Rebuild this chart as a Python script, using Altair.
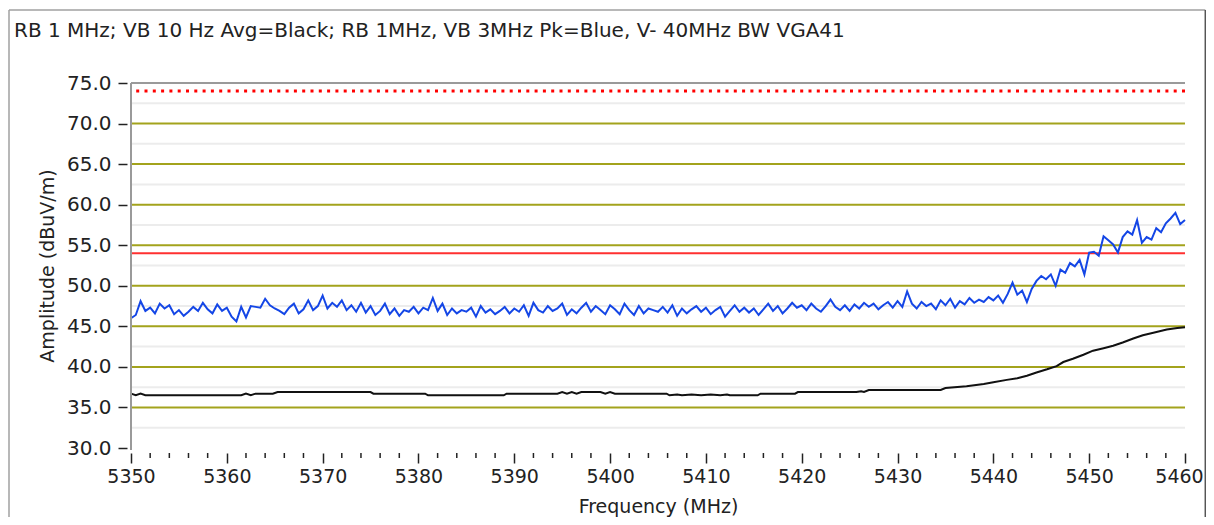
import altair as alt
import pandas as pd

TITLE = "RB 1 MHz; VB 10 Hz Avg=Black; RB 1MHz, VB 3MHz Pk=Blue, V- 40MHz BW VGA41"
X_TITLE = "Frequency (MHz)"
Y_TITLE = "Amplitude (dBuV/m)"

# Peak trace (blue), sweep points every 0.5 MHz from 5350 MHz
F_START = 5350.0
F_STEP = 0.5
peak_amp = [
    46.0, 46.4, 48.1, 46.9, 47.3, 46.6, 47.8, 47.2, 47.6, 46.5, 47.0, 46.3, 46.8, 47.4, 46.9, 47.9, 47.1, 46.6, 47.7, 46.9,
    47.3, 46.2, 45.6, 47.4, 46.1, 47.5, 47.4, 47.3, 48.4, 47.6, 47.2, 46.9, 46.5, 47.3, 47.8, 46.6, 47.1, 48.2, 47.0, 47.5,
    48.8, 47.2, 47.9, 47.4, 48.2, 47.0, 47.6, 46.8, 47.9, 46.7, 47.5, 46.4, 46.9, 47.8, 46.5, 47.2, 46.3, 47.0, 46.8, 47.4,
    46.6, 47.3, 47.0, 48.5, 46.9, 47.8, 46.4, 47.2, 46.6, 47.0, 46.8, 47.3, 46.2, 47.5, 46.7, 47.1, 46.5, 46.9, 47.4, 46.6,
    47.2, 46.8, 47.6, 46.3, 47.9, 47.0, 46.7, 47.5, 46.9, 47.2, 47.8, 46.4, 47.1, 46.6, 47.3, 47.9, 46.8, 47.5, 47.0, 46.5,
    47.6, 47.1, 46.5, 47.8, 47.0, 46.4, 47.5, 46.6, 47.2, 47.0, 46.8, 47.4, 46.7, 47.6, 46.3, 47.2, 46.6, 47.1, 47.5, 46.8,
    47.3, 46.5, 47.0, 47.4, 46.2, 46.9, 47.6, 46.8, 47.3, 46.7, 47.2, 46.4, 47.1, 47.8, 46.9, 47.5, 46.6, 47.2, 47.9, 47.3,
    47.6, 47.0, 47.8, 47.2, 46.8, 47.5, 48.3, 47.4, 47.0, 47.6, 46.9, 47.7, 47.2, 47.9, 47.4, 47.8, 47.1, 47.6, 48.0, 47.3,
    48.1, 47.4, 49.3, 47.8, 47.2, 48.0, 47.5, 47.8, 47.1, 48.2, 47.6, 48.4, 47.3, 48.1, 47.7, 48.5, 47.9, 48.3, 48.0, 48.6,
    48.2, 48.8, 47.9, 49.0, 50.4, 48.9, 49.4, 48.0, 49.6, 50.6, 51.2, 50.8, 51.4, 50.0, 52.0, 51.6, 52.8, 52.4, 53.2, 51.4,
    54.1, 54.2, 53.7, 56.1, 55.6, 55.1, 54.1, 56.0, 56.7, 56.3, 58.1, 55.3, 56.0, 55.7, 57.1, 56.6, 57.7, 58.3, 59.0, 57.6,
    58.1,
]
peak_freq = [F_START + F_STEP * i for i in range(len(peak_amp))]

# Average trace (black)
avg_freq = [
    5350.0, 5350.5, 5351.0, 5351.5, 5352.0, 5361.5, 5362.0, 5362.5, 5363.0, 5364.8, 5365.3, 5375.0,
    5375.3, 5380.7, 5381.0, 5388.9, 5389.2, 5394.5, 5395.0, 5395.5, 5396.0, 5396.5, 5397.0, 5399.0,
    5399.5, 5400.0, 5400.5, 5405.9, 5406.2, 5407.0, 5407.5, 5408.5, 5409.5, 5410.5, 5411.5, 5412.2,
    5412.5, 5415.4, 5415.7, 5419.3, 5419.6, 5425.7, 5426.2, 5426.5, 5427.0, 5434.5, 5435.0, 5437.2,
    5439.0, 5440.0, 5441.4, 5442.5, 5443.5, 5444.5, 5445.6, 5446.6, 5447.3, 5448.3, 5449.4, 5450.4,
    5451.5, 5452.5, 5453.5, 5454.6, 5455.6, 5456.7, 5458.1, 5459.2, 5460.0,
]
avg_amp = [
    36.7, 36.5, 36.7, 36.5, 36.5, 36.5, 36.7, 36.5, 36.7, 36.7, 36.9, 36.9,
    36.7, 36.7, 36.5, 36.5, 36.7, 36.7, 36.9, 36.7, 36.9, 36.7, 36.9, 36.9,
    36.7, 36.9, 36.7, 36.7, 36.5, 36.6, 36.5, 36.6, 36.5, 36.6, 36.5, 36.6,
    36.5, 36.5, 36.7, 36.7, 36.9, 36.9, 37.0, 36.9, 37.15, 37.15, 37.4, 37.6,
    37.9, 38.1, 38.4, 38.6, 38.9, 39.3, 39.7, 40.1, 40.6, 41.0, 41.5, 42.0,
    42.3, 42.6, 43.0, 43.5, 43.9, 44.2, 44.6, 44.8, 44.9,
]

limit_peak = [74.0]
limit_avg = [54.0]
grid_major = [35, 40, 45, 50, 55, 60, 65, 70]
grid_minor = [32.5, 37.5, 42.5, 47.5, 52.5, 57.5, 62.5, 67.5, 72.5]
y_ticks = [30, 35, 40, 45, 50, 55, 60, 65, 70, 75]
x_ticks = [5350, 5360, 5370, 5380, 5390, 5400, 5410, 5420, 5430, 5440, 5450, 5460]
x_minor = [f for f in range(5352, 5460, 2) if f % 10 != 0]

FONT = "DejaVu Sans"
TXT = "#222222"
W, H = 1054, 365

xs = alt.Scale(domain=[5350, 5460], nice=False, zero=False)
ys = alt.Scale(domain=[30, 75], nice=False, zero=False)

x_axis = alt.Axis(
    values=x_ticks, format="d", title=X_TITLE, grid=False, domain=False,
    offset=5, tickSize=10, tickWidth=1.5, tickColor=TXT,
    labelFont=FONT, labelFontSize=19, labelColor=TXT, labelPadding=4,
    labelFlush=False, labelOverlap=False,
    labelOffset={"expr": "datum.value == %d ? -6 : 0" % x_ticks[-1]},
    titleFont=FONT, titleFontSize=19, titleFontWeight="normal",
    titleColor=TXT, titlePadding=11,
)
y_axis = alt.Axis(
    values=y_ticks, format=".1f", title=Y_TITLE, grid=False, domain=False,
    offset=4, tickSize=9, tickWidth=1.5, tickColor=TXT,
    labelFont=FONT, labelFontSize=20, labelColor=TXT, labelPadding=7,
    labelOverlap=False,
    titleFont=FONT, titleFontSize=19, titleFontWeight="normal",
    titleColor=TXT, titlePadding=9,
)

one = pd.DataFrame({"k": [0]})

minor_grid = alt.Chart(pd.DataFrame({"v": grid_minor})).mark_rule(
    color="#ececec", strokeWidth=2
).encode(y=alt.Y("v:Q", scale=ys, axis=y_axis))

major_grid = alt.Chart(pd.DataFrame({"v": grid_major})).mark_rule(
    color="#a3a31c", strokeWidth=2
).encode(y=alt.Y("v:Q", scale=ys, axis=y_axis))

lim_pk = alt.Chart(pd.DataFrame({"v": limit_peak})).mark_rule(
    color="#ff0000", strokeWidth=3, strokeDash=[3, 5.3]
).encode(y=alt.Y("v:Q", scale=ys, axis=y_axis))

lim_av = alt.Chart(pd.DataFrame({"v": limit_avg})).mark_rule(
    color="#ff3030", strokeWidth=2
).encode(y=alt.Y("v:Q", scale=ys, axis=y_axis))

avg_line = alt.Chart(pd.DataFrame({"f": avg_freq, "v": avg_amp})).mark_line(
    color="#111111", strokeWidth=2
).encode(
    x=alt.X("f:Q", scale=xs, axis=x_axis),
    y=alt.Y("v:Q", scale=ys, axis=y_axis),
)

peak_line = alt.Chart(pd.DataFrame({"f": peak_freq, "v": peak_amp})).mark_line(
    color="#1446e6", strokeWidth=2
).encode(
    x=alt.X("f:Q", scale=xs, axis=x_axis),
    y=alt.Y("v:Q", scale=ys, axis=y_axis),
)

x_minor_ticks = alt.Chart(pd.DataFrame({"f": x_minor})).mark_rule(
    color=TXT, strokeWidth=1.5
).encode(
    x=alt.X("f:Q", scale=xs, axis=x_axis),
    y=alt.value(H + 5),
    y2=alt.value(H + 10),
)

frame_left = alt.Chart(one).mark_rule(color="#9a9a9a", strokeWidth=2).encode(
    x=alt.value(0), y=alt.value(0), y2=alt.value(H + 2)
)
frame_top = alt.Chart(one).mark_rule(color="#9a9a9a", strokeWidth=2).encode(
    x=alt.value(0), x2=alt.value(W), y=alt.value(0)
)

border_left = alt.Chart(one).mark_rule(color="#a0a0a0", strokeWidth=1.5).encode(
    x=alt.value(-122), y=alt.value(-73), y2=alt.value(440)
)
border_top = alt.Chart(one).mark_rule(color="#a0a0a0", strokeWidth=1.5).encode(
    x=alt.value(-122), x2=alt.value(1074.3), y=alt.value(-73)
)
border_right = alt.Chart(one).mark_rule(color="#555555", strokeWidth=1.5).encode(
    x=alt.value(1074.3), y=alt.value(-73), y2=alt.value(440)
)

title = alt.Chart(pd.DataFrame({"t": [TITLE]})).mark_text(
    align="left", baseline="middle", font=FONT, fontSize=20, color=TXT
).encode(x=alt.value(-117), y=alt.value(-52), text="t:N")

chart = alt.layer(
    minor_grid, major_grid, lim_pk, lim_av, avg_line, peak_line,
    x_minor_ticks, frame_left, frame_top,
    border_left, border_top, border_right, title,
).properties(
    width=W, height=H,
    padding={"left": 123, "top": 75, "right": 21, "bottom": 69},
    autosize=alt.AutoSizeParams(type="none"),
    background="white",
).configure_view(stroke=None)

chart.save("out.html", embed_options={"renderer": "svg", "actions": False})
